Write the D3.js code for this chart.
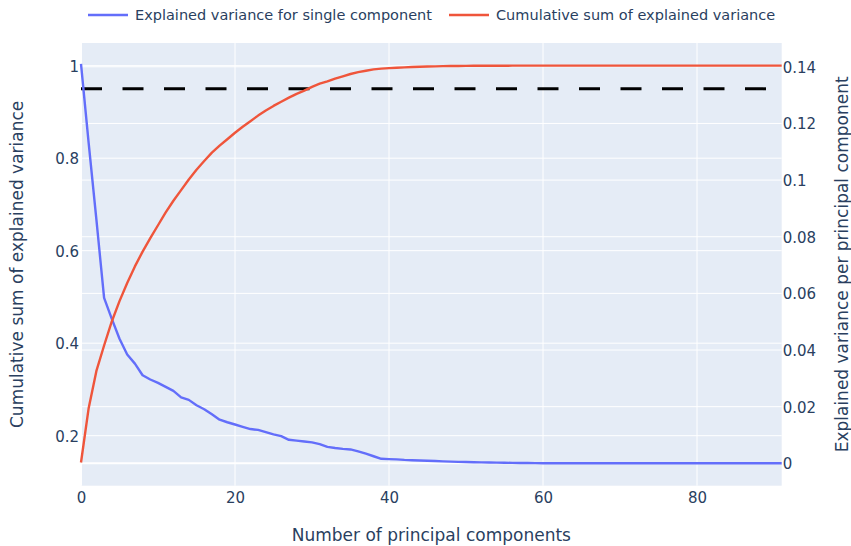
<!DOCTYPE html>
<html>
<head>
<meta charset="utf-8">
<script src="https://cdn.jsdelivr.net/npm/d3@7/dist/d3.min.js"></script>
<style>
  body { margin: 0; background: #fff; }
  svg text { font-family: "DejaVu Sans", verdana, sans-serif; fill: #2a3f5f; }
</style>
</head>
<body>
<svg id="chart" width="851" height="546"></svg>
<script>
// Share of variance explained by each principal component (right axis)
const singleVariance = [
  0.141, 0.113, 0.086, 0.0584, 0.051, 0.044, 0.0384, 0.0352, 0.0311, 0.0296,
  0.0284, 0.027, 0.0256, 0.0233, 0.0224, 0.0205, 0.0191, 0.0173, 0.0154, 0.0145,
  0.0137, 0.0129, 0.0121, 0.0118, 0.011, 0.0102, 0.0096, 0.0083, 0.008, 0.0077,
  0.0074, 0.0068, 0.0058, 0.0054, 0.0051, 0.0049, 0.0042, 0.0034, 0.0025, 0.0016,
  0.0015, 0.0014, 0.0012, 0.0011, 0.001, 0.0009, 0.0008, 0.0007, 0.0006, 0.0005,
  0.00045, 0.0004, 0.00035, 0.0003, 0.00025, 0.0002, 0.00016, 0.00013, 0.0001, 0.00007,
  0.00005, 0.00004, 0.00003, 0.00002, 0.00002, 0.00001, 0.00001, 0, 0, 0,
  0, 0, 0, 0, 0, 0, 0, 0, 0, 0,
  0, 0, 0, 0, 0, 0, 0, 0, 0, 0,
  0, 0
];

// Running total of explained variance (left axis)
const cumulativeVariance = [
  0.142, 0.26, 0.34, 0.395, 0.447, 0.491, 0.53, 0.566, 0.598, 0.627,
  0.655, 0.683, 0.708, 0.731, 0.754, 0.775, 0.794, 0.812, 0.827, 0.841,
  0.855, 0.868, 0.88, 0.892, 0.903, 0.913, 0.922, 0.931, 0.939, 0.946,
  0.954, 0.961, 0.966, 0.972, 0.977, 0.982, 0.986, 0.989, 0.992, 0.9935,
  0.9946, 0.9955, 0.9963, 0.997, 0.9976, 0.9981, 0.9985, 0.9989, 0.9992, 0.9994,
  0.9996, 0.9997, 0.9998, 0.9999, 0.9999, 0.9999, 1, 1, 1, 1,
  1, 1, 1, 1, 1, 1, 1, 1, 1, 1,
  1, 1, 1, 1, 1, 1, 1, 1, 1, 1,
  1, 1, 1, 1, 1, 1, 1, 1, 1, 1,
  1, 1
];

const threshold = 0.95;

const xTicks = [0, 20, 40, 60, 80];
const leftTicks = [0.2, 0.4, 0.6, 0.8, 1];
const rightTicks = [0, 0.02, 0.04, 0.06, 0.08, 0.1, 0.12, 0.14];

const seriesNames = ["Explained variance for single component", "Cumulative sum of explained variance"];
const seriesColors = ["#636efa", "#EF553B"];

const xTitle = "Number of principal components";
const leftTitle = "Cumulative sum of explained variance";
const rightTitle = "Explained variance per principal component";

// Plot frame
const plot = { left: 81, right: 781.7, top: 43, bottom: 485.7 };

const svg = d3.select("#chart");
const components = d3.range(singleVariance.length);

const x = d3.scaleLinear().domain([0, components.length - 1]).range([plot.left, plot.right]);
const yLeft = d3.scaleLinear().domain([0.0919, 1.049]).range([plot.bottom, plot.top]);
const yRight = d3.scaleLinear().domain([-0.0079, 0.1484]).range([plot.bottom, plot.top]);

// Background
svg.append("rect")
  .attr("x", plot.left).attr("y", plot.top)
  .attr("width", plot.right - plot.left).attr("height", plot.bottom - plot.top)
  .attr("fill", "#E5ECF6");

// Grid lines for both y axes and the x axis
const grid = svg.append("g").attr("stroke", "#fff").attr("stroke-width", 1);
grid.selectAll(".gl").data(leftTicks).join("line").attr("class", "gl")
  .attr("x1", plot.left).attr("x2", plot.right)
  .attr("y1", d => yLeft(d)).attr("y2", d => yLeft(d));
grid.selectAll(".gr").data(rightTicks.filter(d => d !== 0)).join("line").attr("class", "gr")
  .attr("x1", plot.left).attr("x2", plot.right)
  .attr("y1", d => yRight(d)).attr("y2", d => yRight(d));
grid.selectAll(".gx").data(xTicks.filter(d => d !== 0)).join("line").attr("class", "gx")
  .attr("x1", d => x(d)).attr("x2", d => x(d))
  .attr("y1", plot.top).attr("y2", plot.bottom);

// Zero lines
svg.append("line")
  .attr("x1", x(0)).attr("x2", x(0)).attr("y1", plot.top).attr("y2", plot.bottom)
  .attr("stroke", "#fff").attr("stroke-width", 2);
svg.append("line")
  .attr("x1", plot.left).attr("x2", plot.right).attr("y1", yRight(0)).attr("y2", yRight(0))
  .attr("stroke", "#fff").attr("stroke-width", 2);

// Axes
const fmt = d => String(+d.toFixed(4));

const axLeft = svg.append("g").attr("transform", `translate(${plot.left},0)`)
  .call(d3.axisLeft(yLeft).tickValues(leftTicks).tickFormat(fmt).tickSize(0).tickPadding(2));
const axRight = svg.append("g").attr("transform", `translate(${plot.right},0)`)
  .call(d3.axisRight(yRight).tickValues(rightTicks).tickFormat(fmt).tickSize(0).tickPadding(1));
const axBottom = svg.append("g").attr("transform", `translate(0,${plot.bottom})`)
  .call(d3.axisBottom(x).tickValues(xTicks).tickFormat(fmt).tickSize(0).tickPadding(7));

[axLeft, axRight, axBottom].forEach(g => {
  g.select(".domain").remove();
  g.attr("font-family", null).attr("font-size", null);
  g.selectAll("text").attr("font-size", 15).attr("fill", "#2a3f5f");
});
axLeft.selectAll("text").attr("dy", "0.36em");
axRight.selectAll("text").attr("dy", "0.36em");

// Threshold line
svg.append("line")
  .attr("x1", plot.left).attr("x2", plot.right)
  .attr("y1", yLeft(threshold)).attr("y2", yLeft(threshold))
  .attr("stroke", "#000").attr("stroke-width", 3)
  .attr("stroke-dasharray", "21,20.5");

// Series lines
const lineSingle = d3.line().x((d, i) => x(components[i])).y(d => yRight(d));
const lineCumulative = d3.line().x((d, i) => x(components[i])).y(d => yLeft(d));

svg.append("clipPath").attr("id", "plotclip").append("rect")
  .attr("x", plot.left - 2).attr("y", plot.top)
  .attr("width", plot.right - plot.left + 4).attr("height", plot.bottom - plot.top);

svg.append("path").datum(singleVariance)
  .attr("d", lineSingle)
  .attr("fill", "none").attr("stroke", seriesColors[0]).attr("stroke-width", 2.4)
  .attr("stroke-linejoin", "round").attr("clip-path", "url(#plotclip)");
svg.append("path").datum(cumulativeVariance)
  .attr("d", lineCumulative)
  .attr("fill", "none").attr("stroke", seriesColors[1]).attr("stroke-width", 2.4)
  .attr("stroke-linejoin", "round").attr("clip-path", "url(#plotclip)");

// Axis titles
svg.append("text")
  .attr("x", (plot.left + plot.right) / 2).attr("y", 541)
  .attr("text-anchor", "middle").attr("font-size", 17).text(xTitle);
svg.append("text")
  .attr("transform", `translate(22.5,${(plot.top + plot.bottom) / 2}) rotate(-90)`)
  .attr("text-anchor", "middle").attr("font-size", 17).text(leftTitle);
svg.append("text")
  .attr("transform", `translate(848,${(plot.top + plot.bottom) / 2}) rotate(-90)`)
  .attr("text-anchor", "middle").attr("font-size", 17).text(rightTitle);

// Legend
const legendItems = [
  { name: seriesNames[0], color: seriesColors[0], x: 88 },
  { name: seriesNames[1], color: seriesColors[1], x: 449 }
];
const legend = svg.append("g").attr("transform", "translate(0,15)");
const li = legend.selectAll("g").data(legendItems).join("g")
  .attr("transform", d => `translate(${d.x},0)`);
li.append("line").attr("x1", 0).attr("x2", 40).attr("y1", 0).attr("y2", 0)
  .attr("stroke", d => d.color).attr("stroke-width", 2.4);
li.append("text").attr("x", 47).attr("dy", "0.36em").attr("font-size", 14.5).text(d => d.name);
</script>
</body>
</html>
